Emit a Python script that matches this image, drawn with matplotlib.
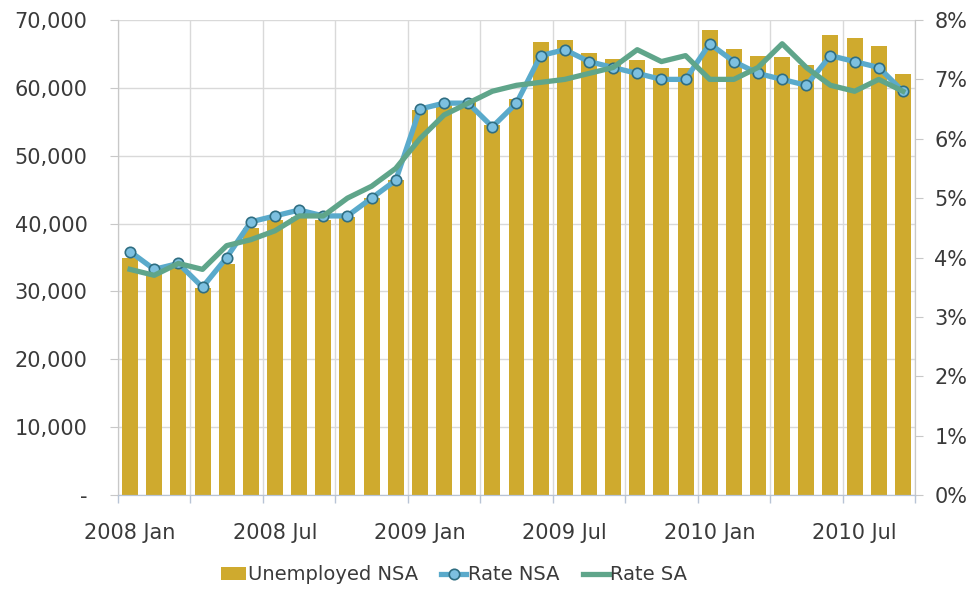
import matplotlib
matplotlib.use("Agg")
import matplotlib.pyplot as plt
from matplotlib.lines import Line2D
from matplotlib.patches import Patch
from matplotlib.ticker import FuncFormatter, FixedLocator

months = ["2008 Jan", "2008 Feb", "2008 Mar", "2008 Apr", "2008 May", "2008 Jun",
          "2008 Jul", "2008 Aug", "2008 Sep", "2008 Oct", "2008 Nov", "2008 Dec",
          "2009 Jan", "2009 Feb", "2009 Mar", "2009 Apr", "2009 May", "2009 Jun",
          "2009 Jul", "2009 Aug", "2009 Sep", "2009 Oct", "2009 Nov", "2009 Dec",
          "2010 Jan", "2010 Feb", "2010 Mar", "2010 Apr", "2010 May", "2010 Jun",
          "2010 Jul", "2010 Aug", "2010 Sep"]

unemployed_nsa = [35000, 32500, 33500, 30500, 34000, 39300, 40500, 41000, 40500,
                  41000, 43800, 46400, 56700, 57700, 58000, 54500, 58300, 66700,
                  67000, 65200, 64300, 64100, 63000, 62900, 68600, 65800, 64700,
                  64600, 63400, 67800, 67300, 66200, 62000]

rate_nsa = [4.1, 3.8, 3.9, 3.5, 4.0, 4.6, 4.7, 4.8, 4.7, 4.7, 5.0, 5.3, 6.5, 6.6,
            6.6, 6.2, 6.6, 7.4, 7.5, 7.3, 7.2, 7.1, 7.0, 7.0, 7.6, 7.3, 7.1, 7.0,
            6.9, 7.4, 7.3, 7.2, 6.8]

rate_sa = [3.8, 3.7, 3.9, 3.8, 4.2, 4.3, 4.45, 4.7, 4.7, 5.0, 5.2, 5.5, 6.0, 6.4,
           6.6, 6.8, 6.9, 6.95, 7.0, 7.1, 7.2, 7.5, 7.3, 7.4, 7.0, 7.0, 7.2, 7.6,
           7.2, 6.9, 6.8, 7.0, 6.8]

tick_labels = ["2008 Jan", "2008 Jul", "2009 Jan", "2009 Jul", "2010 Jan", "2010 Jul"]

BAR = "#CFAA2E"
NSA = "#5AAACB"
NSA_FACE = "#7DC0E0"
NSA_EDGE = "#2F6E82"
SA = "#5FA58A"
TXT = "#3A3A3A"
GRID = "#D9D9D9"

plt.rcParams["font.family"] = ["DejaVu Sans"]
fs = 15
fs_leg = 14

fig = plt.figure(figsize=(9.78, 5.96), dpi=100)
ax = fig.add_axes([118 / 978, 1 - 495 / 596, (915 - 118) / 978, (495 - 20) / 596])
ax2 = ax.twinx()

x = list(range(len(months)))
ax.bar(x, unemployed_nsa, width=0.66, color=BAR, zorder=2)
ax.set_xlim(-0.5, len(months) - 0.5)
ax.set_ylim(0, 70000)
ax.set_yticks(range(0, 70001, 10000))
ax.yaxis.set_major_formatter(FuncFormatter(lambda v, p: "-" if v == 0 else f"{int(v):,}"))

label_pos = [months.index(t) for t in tick_labels]
ax.set_xticks(label_pos)
ax.set_xticklabels(tick_labels)
ax.tick_params(axis="x", which="major", length=0, pad=20, labelsize=fs, labelcolor=TXT)
bounds = [b - 0.5 for b in range(0, len(months) + 1, 3)]
ax.xaxis.set_minor_locator(FixedLocator(bounds))
ax.tick_params(axis="x", which="minor", length=6, color="#B8C4D6", width=1)
ax.tick_params(axis="y", length=6, color="#C8C8C8", labelsize=fs, labelcolor=TXT, pad=16)
ax.grid(True, which="minor", axis="x", color=GRID, lw=1, zorder=0)
ax.grid(True, which="major", axis="y", color=GRID, lw=1, zorder=0)
ax.set_axisbelow(True)

ax2.plot(x, rate_nsa, color=NSA, lw=3.8, marker="o", ms=7.5, mfc=NSA_FACE,
         mec=NSA_EDGE, mew=1.2, zorder=3)
ax2.plot(x, rate_sa, color=SA, lw=3.8, zorder=4)
ax2.set_ylim(0, 8)
ax2.set_yticks(range(0, 9))
ax2.yaxis.set_major_formatter(FuncFormatter(lambda v, p: f"{int(v)}%"))
ax2.tick_params(axis="y", length=6, color="#C8C8C8", labelsize=fs, labelcolor=TXT, pad=8)

for a in (ax, ax2):
    a.spines["top"].set_visible(False)
    a.spines["left"].set_color("#C8C8C8")
    a.spines["right"].set_color("#C8C8C8")
    a.spines["bottom"].set_color("#B8C4D6")

handles = [
    Patch(facecolor=BAR, edgecolor="none"),
    Line2D([0], [0], color=NSA, lw=3.8, marker="o", ms=7.5, mfc=NSA_FACE, mec=NSA_EDGE, mew=1.2),
    Line2D([0], [0], color=SA, lw=3.8),
]
fig.legend(handles, ["Unemployed NSA", "Rate NSA", "Rate SA"], loc="center",
           bbox_to_anchor=(454 / 978, 1 - 575 / 596), ncol=3, frameon=False,
           fontsize=fs_leg, labelcolor=TXT, handlelength=1.3, handletextpad=0.1,
           columnspacing=1.2, handleheight=0.6)

fig.savefig("out.png", dpi=100)
